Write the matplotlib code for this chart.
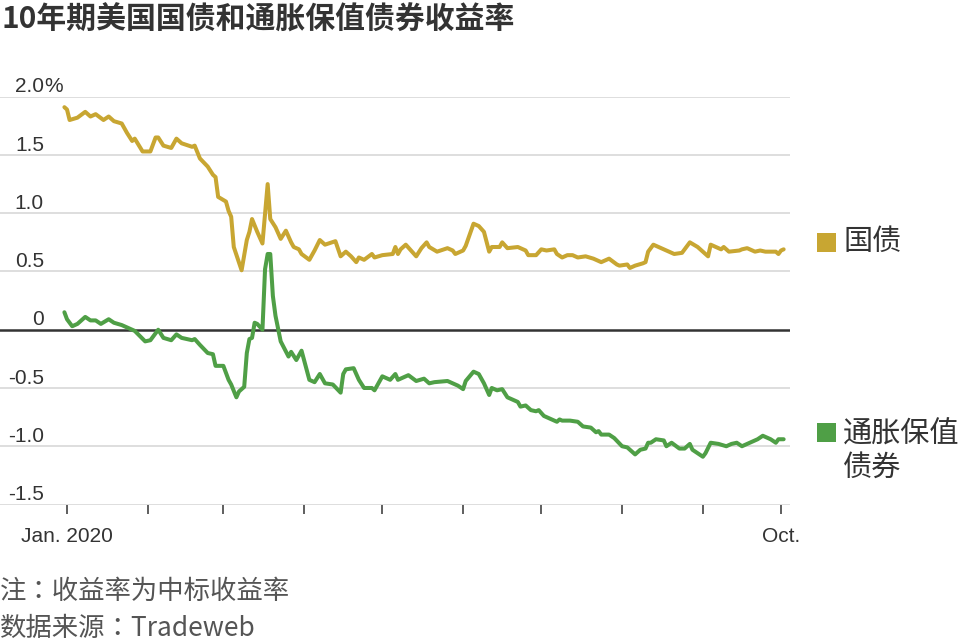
import pandas as pd
import matplotlib
matplotlib.use('Agg')
import matplotlib.pyplot as plt
import matplotlib.dates as mdates
import matplotlib.transforms as mtransforms
from matplotlib.patches import Rectangle

plt.rcParams['font.family'] = ['Noto Sans CJK SC', 'DejaVu Sans']

# trading days counted from 2020-01-01 (-1 = Dec. 31, 2019), yields in %
treasury_days = [-1, 0, 1, 4, 7, 9, 11, 14, 16, 18, 21, 23, 25, 26, 29, 32, 34, 35, 37, 40,
                 42, 44, 48, 49, 51, 54, 56, 57, 58, 61, 62, 63, 64, 67, 69, 70, 71, 73, 75, 77,
                 78, 80, 82, 84, 86, 87, 89, 90, 93, 95, 97, 99, 103, 105, 107, 109, 111, 112, 114, 117,
                 118, 121, 125, 126, 127, 128, 130, 134, 136, 138, 139, 142, 146, 148, 149, 152, 153, 156, 158, 160,
                 162, 163, 166, 167, 169, 173, 176, 177, 180, 182, 184, 187, 188, 190, 192, 194, 196, 199, 202, 205,
                 208, 211, 212, 215, 216, 218, 221, 222, 223, 225, 228, 231, 233, 236, 237, 239, 242, 244, 246, 247,
                 251, 252, 254, 258, 259, 261, 264, 266, 268, 272, 273, 274, 275]
treasury_yield = [1.91, 1.89, 1.80, 1.82, 1.87, 1.83, 1.85, 1.80, 1.83, 1.79, 1.77, 1.69, 1.62, 1.64, 1.53, 1.53, 1.65, 1.65, 1.58, 1.56,
                  1.64, 1.60, 1.57, 1.58, 1.47, 1.40, 1.33, 1.31, 1.14, 1.10, 1.02, 0.97, 0.71, 0.51, 0.77, 0.84, 0.95, 0.84, 0.74, 1.25,
                  0.95, 0.88, 0.78, 0.85, 0.75, 0.71, 0.69, 0.65, 0.60, 0.68, 0.77, 0.73, 0.76, 0.63, 0.67, 0.63, 0.58, 0.62, 0.60, 0.65,
                  0.62, 0.64, 0.65, 0.71, 0.65, 0.69, 0.73, 0.63, 0.70, 0.75, 0.71, 0.67, 0.70, 0.68, 0.65, 0.68, 0.72, 0.91, 0.89, 0.84,
                  0.67, 0.71, 0.71, 0.75, 0.70, 0.71, 0.68, 0.64, 0.64, 0.69, 0.68, 0.69, 0.65, 0.62, 0.64, 0.64, 0.62, 0.63, 0.61, 0.58,
                  0.61, 0.56, 0.55, 0.56, 0.53, 0.55, 0.57, 0.58, 0.67, 0.73, 0.70, 0.67, 0.65, 0.66, 0.69, 0.75, 0.71, 0.67, 0.63, 0.73,
                  0.69, 0.71, 0.67, 0.68, 0.69, 0.70, 0.67, 0.68, 0.67, 0.67, 0.65, 0.68, 0.69]

tips_days = [-1, 0, 2, 4, 7, 9, 11, 13, 16, 18, 21, 23, 26, 30, 32, 35, 37, 40, 42, 44,
             48, 49, 51, 54, 56, 57, 60, 62, 63, 65, 66, 68, 69, 70, 71, 72, 73, 75, 76, 77,
             78, 79, 80, 82, 85, 86, 88, 90, 93, 95, 97, 99, 102, 105, 106, 107, 110, 112, 114, 117,
             118, 121, 124, 126, 127, 131, 134, 137, 139, 141, 146, 148, 150, 152, 153, 156, 158, 160, 162, 163,
             165, 167, 169, 173, 174, 176, 178, 180, 181, 183, 186, 188, 189, 190, 193, 196, 198, 201, 203, 204,
             205, 208, 210, 213, 215, 218, 220, 222, 223, 224, 226, 229, 230, 232, 235, 237, 239, 240, 242, 244,
             245, 247, 250, 253, 255, 257, 259, 262, 265, 267, 270, 272, 273, 275]
tips_yield = [0.15, 0.09, 0.03, 0.05, 0.11, 0.08, 0.08, 0.05, 0.09, 0.06, 0.04, 0.02, -0.01, -0.10, -0.09, 0.00, -0.07, -0.09, -0.04, -0.07,
              -0.09, -0.08, -0.13, -0.20, -0.21, -0.31, -0.31, -0.43, -0.47, -0.58, -0.53, -0.49, -0.20, -0.08, -0.07, 0.06, 0.05, 0.00, 0.52, 0.65,
              0.65, 0.29, 0.12, -0.10, -0.23, -0.19, -0.26, -0.18, -0.43, -0.45, -0.38, -0.46, -0.47, -0.54, -0.38, -0.34, -0.33, -0.43, -0.50, -0.50,
              -0.52, -0.40, -0.43, -0.38, -0.43, -0.39, -0.44, -0.42, -0.46, -0.45, -0.44, -0.46, -0.48, -0.51, -0.44, -0.36, -0.38, -0.46, -0.56, -0.50,
              -0.52, -0.51, -0.58, -0.62, -0.66, -0.65, -0.69, -0.70, -0.69, -0.74, -0.77, -0.79, -0.77, -0.78, -0.78, -0.79, -0.83, -0.84, -0.88, -0.87,
              -0.90, -0.90, -0.93, -1.00, -1.01, -1.07, -1.03, -1.02, -0.97, -0.97, -0.94, -0.95, -1.00, -0.97, -1.02, -1.02, -0.98, -1.03, -1.06, -1.09,
              -1.06, -0.97, -0.98, -1.00, -0.98, -0.97, -1.00, -0.97, -0.94, -0.91, -0.94, -0.97, -0.94, -0.94]

month_ticks = ['2020-01-01', '2020-02-01', '2020-03-01', '2020-04-01', '2020-05-01',
               '2020-06-01', '2020-07-01', '2020-08-01', '2020-09-01', '2020-10-01']
xtick_labels = ['Jan. 2020', '', '', '', '', '', '', '', '', 'Oct.']
ytick_values = [2.0, 1.5, 1.0, 0.5, 0.0, -0.5, -1.0, -1.5]
ytick_labels = ['2.0', '1.5', '1.0', '0.5', '0', '-0.5', '-1.0', '-1.5']

series_names = ['国债', '通胀保值\n债券']
series_colors = ['#c8a632', '#4f9f46']

title = '10年期美国国债和通胀保值债券收益率'
notes = ['注：收益率为中标收益率', '数据来源：Tradeweb']

W, H = 968, 644
start = pd.Timestamp('2020-01-01')
t_dates = start + pd.to_timedelta(treasury_days, unit='D')
p_dates = start + pd.to_timedelta(tips_days, unit='D')

fig = plt.figure(figsize=(W / 100, H / 100), dpi=100)
ax = fig.add_axes([0, (H - 504.5) / H, 790 / W, (504.5 - 96.7) / H])

# grid lines and zero line
for v in ytick_values:
    if v == 0:
        ax.axhline(v, color='#333333', lw=1.8, zorder=2)
    else:
        ax.axhline(v, color='#dedede', lw=1.4, zorder=1)

ax.plot(t_dates, treasury_yield, color=series_colors[0], lw=2.9,
        solid_joinstyle='round', solid_capstyle='round', zorder=3)
ax.plot(p_dates, tips_yield, color=series_colors[1], lw=2.9,
        solid_joinstyle='round', solid_capstyle='round', zorder=3)

x0 = mdates.date2num(start)
ax.set_xlim(x0 - 67 / 2.606, x0 + (790 - 67) / 2.606)
ax.set_ylim(-1.5, 2.0)

for s in ax.spines.values():
    s.set_visible(False)

ax.set_yticks([])
ax.set_xticks(pd.to_datetime(month_ticks))
ax.set_xticklabels(xtick_labels, fontfamily='Liberation Sans', fontsize=15, color='#333333')
ax.tick_params(axis='x', length=6.5, width=1.1, color='#333333', pad=10, direction='out')

# y labels sit above their grid lines
lab_trans = mtransforms.offset_copy(ax.get_yaxis_transform(), fig=fig, x=0, y=3.2, units='points')
for v, lab in zip(ytick_values, ytick_labels):
    ax.text(44 / 790, v, lab, transform=lab_trans, ha='right', va='baseline',
            fontsize=15, color='#333333', fontfamily='Liberation Sans')
ax.text(44 / 790, ytick_values[0], '%', transform=lab_trans, ha='left', va='baseline',
        fontsize=15, color='#333333', fontfamily='Liberation Sans')

# legend at the right
leg_y = [242, 451]
sq_tops = [233, 423]
for name, col, yc, top in zip(series_names, series_colors, leg_y, sq_tops):
    fig.add_artist(Rectangle((817 / W, (H - top - 19) / H), 19 / W, 19 / H,
                             transform=fig.transFigure, color=col, lw=0))
    fig.text(843 / W, (H - yc) / H, name, fontsize=21, color='#333333',
             ha='left', va='center', linespacing=1.15)

fig.text(1 / W, 1 - 5 / H, title, fontsize=21.5, fontweight='bold', color='#333333',
         ha='left', va='top')
note_font = ['Noto Sans CJK TC', 'DejaVu Sans']
fig.text(0, (H - 591) / H, notes[0], fontsize=19, color='#555555', ha='left', va='center',
         family=note_font)
fig.text(0, (H - 628) / H, notes[1], fontsize=19, color='#555555', ha='left', va='center',
         family=note_font)

fig.savefig('out.png', dpi=100)
